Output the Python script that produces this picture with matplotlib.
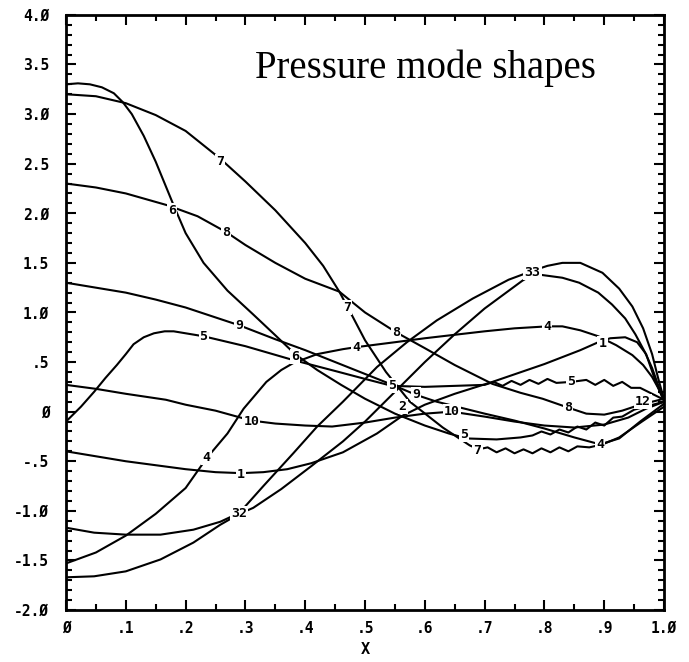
import matplotlib
matplotlib.use("Agg")
import matplotlib.pyplot as plt
from matplotlib.ticker import FixedLocator, FixedFormatter, MultipleLocator

# ---------------- data ----------------
x_ticks = [0, 0.1, 0.2, 0.3, 0.4, 0.5, 0.6, 0.7, 0.8, 0.9, 1.0]
x_tick_labels = ["Ø", ".1", ".2", ".3", ".4", ".5", ".6", ".7", ".8", ".9", "1.Ø"]
y_ticks = [-2.0, -1.5, -1.0, -0.5, 0, 0.5, 1.0, 1.5, 2.0, 2.5, 3.0, 3.5, 4.0]
y_tick_labels = ["-2.Ø", "-1.5", "-1.Ø", "-.5", "Ø", ".5", "1.Ø", "1.5", "2.Ø", "2.5", "3.Ø", "3.5", "4.Ø"]

m1_x = [0, 0.05, 0.1, 0.15, 0.2, 0.25, 0.293, 0.33, 0.37, 0.41, 0.463, 0.52, 0.563, 0.6, 0.65, 0.713, 0.8, 0.86, 0.89, 0.91, 0.935, 0.955, 0.97, 0.985, 1.0]
m1_y = [-0.40, -0.45, -0.50, -0.54, -0.58, -0.61, -0.62, -0.61, -0.58, -0.52, -0.41, -0.22, -0.04, 0.07, 0.18, 0.30, 0.48, 0.62, 0.70, 0.74, 0.75, 0.70, 0.58, 0.32, 0.10]

m2_x = [0, 0.047, 0.1, 0.158, 0.213, 0.258, 0.29, 0.33, 0.38, 0.42, 0.463, 0.52, 0.57, 0.62, 0.68, 0.74, 0.78, 0.805, 0.83, 0.86, 0.897, 0.925, 0.947, 0.965, 0.98, 0.99, 1.0]
m2_y = [-1.17, -1.22, -1.24, -1.24, -1.19, -1.11, -1.02, -0.75, -0.42, -0.15, 0.10, 0.45, 0.70, 0.92, 1.14, 1.33, 1.42, 1.47, 1.50, 1.50, 1.40, 1.24, 1.06, 0.84, 0.58, 0.34, 0.12]

m3_x = [0, 0.047, 0.1, 0.158, 0.213, 0.258, 0.29, 0.313, 0.36, 0.41, 0.463, 0.5, 0.55, 0.6, 0.65, 0.7, 0.763, 0.78, 0.793, 0.83, 0.858, 0.89, 0.913, 0.935, 0.952, 0.968, 0.98, 0.99, 1.0]
m3_y = [-1.67, -1.66, -1.61, -1.49, -1.32, -1.14, -1.03, -0.97, -0.78, -0.55, -0.30, -0.10, 0.20, 0.50, 0.78, 1.04, 1.32, 1.38, 1.38, 1.35, 1.30, 1.20, 1.08, 0.94, 0.78, 0.60, 0.44, 0.27, 0.12]

m4_x = [0, 0.05, 0.1, 0.15, 0.2, 0.235, 0.27, 0.297, 0.335, 0.36, 0.38, 0.42, 0.463, 0.485, 0.55, 0.6, 0.7, 0.75, 0.805, 0.83, 0.86, 0.89, 0.92, 0.947, 0.965, 0.98, 0.99, 1.0]
m4_y = [-1.53, -1.42, -1.25, -1.03, -0.77, -0.47, -0.22, 0.03, 0.30, 0.42, 0.49, 0.58, 0.63, 0.65, 0.70, 0.74, 0.81, 0.84, 0.86, 0.86, 0.82, 0.76, 0.67, 0.57, 0.47, 0.35, 0.24, 0.12]

m5_x = [0, 0.025, 0.047, 0.066, 0.085, 0.1, 0.113, 0.13, 0.147, 0.165, 0.18, 0.23, 0.3, 0.38, 0.45, 0.5, 0.545, 0.6, 0.65, 0.70,
        0.715, 0.73, 0.745, 0.76, 0.775, 0.79, 0.805, 0.82, 0.845, 0.87, 0.885, 0.90, 0.915, 0.93, 0.945, 0.96, 0.98, 1.0]
m5_y = [-0.10, 0.05, 0.20, 0.34, 0.47, 0.58, 0.68, 0.75, 0.79, 0.81, 0.81, 0.76, 0.66, 0.52, 0.41, 0.33, 0.26, 0.25, 0.26, 0.27,
        0.30, 0.26, 0.31, 0.27, 0.32, 0.28, 0.33, 0.29, 0.30, 0.32, 0.27, 0.32, 0.26, 0.30, 0.24, 0.24, 0.18, 0.12]

m6_x = [0, 0.02, 0.04, 0.06, 0.08, 0.095, 0.11, 0.13, 0.15, 0.18, 0.2, 0.23, 0.27, 0.313, 0.35, 0.383, 0.42, 0.46, 0.5, 0.55, 0.6, 0.64, 0.67, 0.72, 0.76,
        0.78, 0.795, 0.81, 0.825, 0.84, 0.855, 0.87, 0.885, 0.9, 0.915, 0.93, 0.95, 0.975, 1.0]
m6_y = [3.30, 3.31, 3.30, 3.27, 3.21, 3.12, 3.00, 2.78, 2.52, 2.08, 1.80, 1.50, 1.22, 0.98, 0.77, 0.58, 0.42, 0.27, 0.13, -0.02, -0.14, -0.22, -0.27, -0.28, -0.26,
        -0.24, -0.20, -0.23, -0.18, -0.21, -0.15, -0.18, -0.11, -0.14, -0.06, -0.05, 0.02, 0.06, 0.10]

m7_x = [0, 0.05, 0.1, 0.15, 0.2, 0.258, 0.3, 0.35, 0.4, 0.43, 0.457, 0.48, 0.5, 0.535, 0.575, 0.63, 0.675, 0.69,
        0.705, 0.72, 0.735, 0.75, 0.765, 0.78, 0.795, 0.81, 0.825, 0.84, 0.855, 0.875, 0.897, 0.925, 0.963, 1.0]
m7_y = [3.20, 3.18, 3.11, 2.99, 2.83, 2.55, 2.32, 2.03, 1.70, 1.47, 1.21, 0.95, 0.72, 0.40, 0.10, -0.16, -0.34, -0.38,
        -0.36, -0.41, -0.37, -0.42, -0.38, -0.42, -0.37, -0.41, -0.36, -0.40, -0.35, -0.36, -0.33, -0.26, -0.10, 0.05]

m8_x = [0, 0.05, 0.1, 0.17, 0.22, 0.268, 0.3, 0.35, 0.4, 0.457, 0.5, 0.552, 0.6, 0.65, 0.713, 0.76, 0.797, 0.84, 0.87, 0.9, 0.93, 0.96, 1.0]
m8_y = [2.30, 2.26, 2.20, 2.08, 1.97, 1.81, 1.68, 1.50, 1.34, 1.21, 1.00, 0.80, 0.64, 0.47, 0.28, 0.19, 0.13, 0.04, -0.02, -0.03, 0.01, 0.07, 0.13]

m9_x = [0, 0.05, 0.1, 0.15, 0.2, 0.25, 0.29, 0.35, 0.4, 0.45, 0.5, 0.55, 0.585, 0.62, 0.66, 0.7, 0.75, 0.8, 0.85, 0.893, 0.925, 0.96, 1.0]
m9_y = [1.30, 1.25, 1.20, 1.13, 1.05, 0.95, 0.87, 0.73, 0.62, 0.50, 0.38, 0.26, 0.17, 0.10, 0.04, -0.02, -0.09, -0.17, -0.26, -0.33, -0.27, -0.10, 0.08]

m10_x = [0, 0.05, 0.1, 0.167, 0.2, 0.25, 0.31, 0.35, 0.4, 0.445, 0.5, 0.55, 0.6, 0.645, 0.7, 0.75, 0.8, 0.85, 0.9, 0.94, 0.97, 1.0]
m10_y = [0.27, 0.23, 0.18, 0.12, 0.07, 0.01, -0.09, -0.12, -0.14, -0.15, -0.11, -0.06, -0.02, 0.0, -0.05, -0.10, -0.14, -0.16, -0.13, -0.06, 0.03, 0.10]

curve_labels = ["7", "7", "7", "6", "6", "5", "8", "8", "8", "9", "9", "4",
                "5", "5", "5", "4", "4", "4", "10", "10", "12", "1", "2", "1", "32", "33"]
label_x = [0.258, 0.47, 0.688, 0.177, 0.383, 0.666, 0.268, 0.552, 0.84, 0.29, 0.585, 0.893,
           0.23, 0.545, 0.845, 0.235, 0.485, 0.805, 0.31, 0.645, 0.965, 0.293, 0.563, 0.897, 0.29, 0.78]
label_y = [2.52, 1.05, -0.39, 2.03, 0.56, -0.23, 1.81, 0.80, 0.04, 0.87, 0.17, -0.33,
           0.76, 0.26, 0.30, -0.46, 0.65, 0.86, -0.10, 0.0, 0.10, -0.63, 0.05, 0.69, -1.03, 1.40]

title_text = "Pressure mode shapes"
x_label = "X"

# ---------------- drawing ----------------
plt.rcParams['font.family'] = ['DejaVu Sans Mono', 'DejaVu Sans']
fig = plt.figure(figsize=(6.89, 6.62), dpi=100)
ax = fig.add_axes([0.0958, 0.0785, 0.868, 0.899])

lw = 1.5
for xs, ys in [(m1_x, m1_y), (m2_x, m2_y), (m3_x, m3_y), (m4_x, m4_y), (m5_x, m5_y),
               (m6_x, m6_y), (m7_x, m7_y), (m8_x, m8_y), (m9_x, m9_y), (m10_x, m10_y)]:
    ax.plot(xs, ys, color="black", lw=lw, solid_joinstyle="round", solid_capstyle="round", zorder=2)

for t, lx, ly in zip(curve_labels, label_x, label_y):
    ax.text(lx, ly, t, ha="center", va="center", fontsize=9.5, fontweight="bold",
            color="black", zorder=4,
            bbox=dict(boxstyle="square,pad=0.08", fc="white", ec="none"))

ax.text(0.316, 3.365, title_text, fontsize=28, family="Liberation Serif",
        ha="left", va="baseline", color="black", zorder=5)

ax.set_xlim(0, 1.0)
ax.set_ylim(-2.0, 4.0)
ax.xaxis.set_major_locator(FixedLocator(x_ticks))
ax.xaxis.set_major_formatter(FixedFormatter(x_tick_labels))
ax.xaxis.set_minor_locator(MultipleLocator(0.05))
ax.yaxis.set_major_locator(FixedLocator(y_ticks))
ax.yaxis.set_major_formatter(FixedFormatter(y_tick_labels))
ax.yaxis.set_minor_locator(MultipleLocator(0.1))

ax.tick_params(which="both", direction="in", top=True, right=True, width=1.5, color="black")
ax.tick_params(which="major", length=7, labelsize=10.5)
ax.tick_params(axis="y", which="major", pad=12)
ax.tick_params(axis="x", which="major", pad=8)
ax.tick_params(which="minor", length=4)
for lab in ax.get_xticklabels() + ax.get_yticklabels():
    lab.set_fontweight("bold")
for s in ax.spines.values():
    s.set_linewidth(2)
    s.set_color("black")

ax.set_xlabel(x_label, fontsize=11, fontweight="bold", labelpad=4)

fig.savefig("out.png", dpi=100)
